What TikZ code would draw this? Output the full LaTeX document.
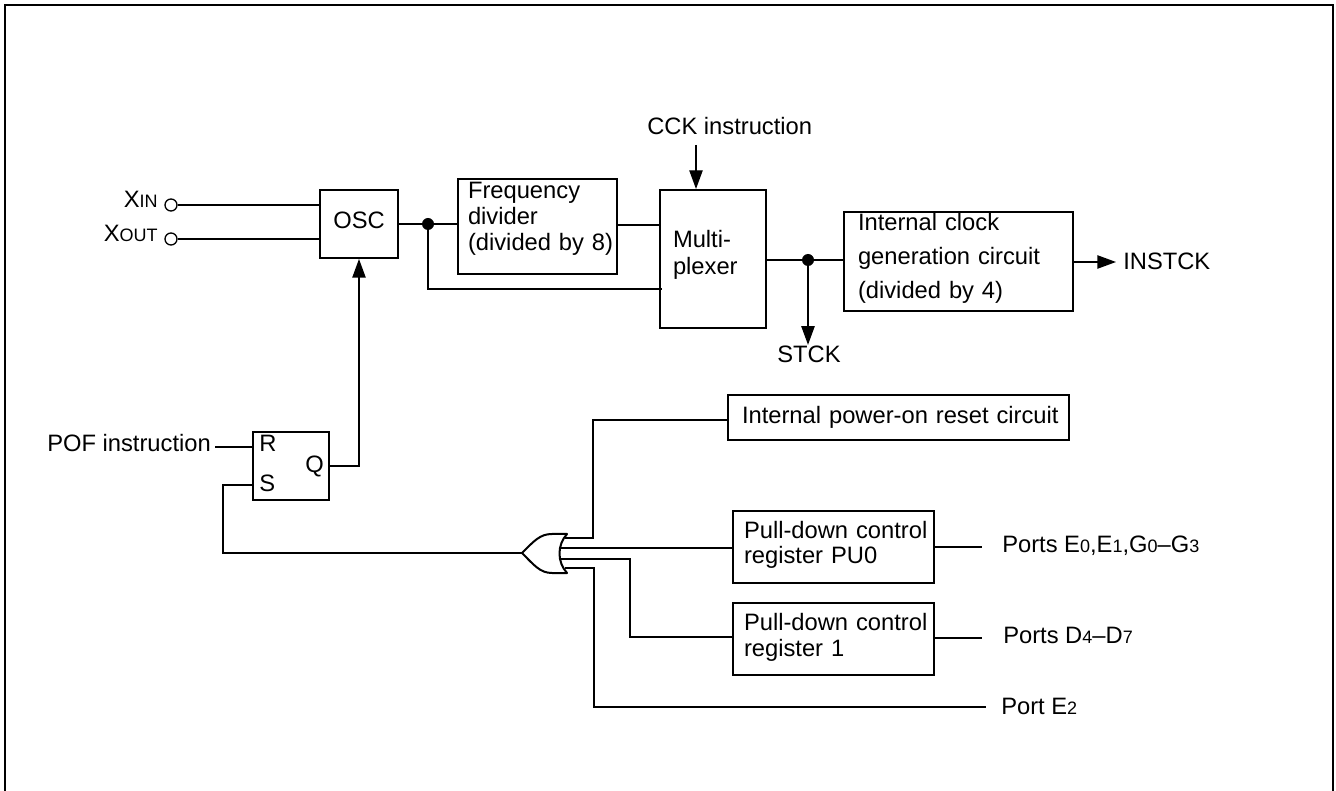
\documentclass[tikz,border=0pt]{standalone}
\usepackage{fontspec}
\setmainfont{Liberation Sans}
\usetikzlibrary{arrows.meta}
\newcommand{\lowtxt}[1]{{\fontsize{13.5}{16}\selectfont #1}}
\tikzset{
    Box/.style n args={4}{rectangle, draw=black, line width=1.5pt, anchor=north west, align=left,
        inner ysep=0pt, inner xsep=#3*0.75pt, text width=(#1-2*#3)*0.75pt,
        text height=#4*0.75pt, text depth=(#2-#4)*0.75pt},
    Label/.style={anchor=base west, inner sep=0pt},
    Wire/.style={line width=1pt},
    Head/.style={Wire, -{Triangle[length=14pt,width=10pt]}},
    Dot/.style={circle, fill=black, inner sep=0pt, minimum size=9pt},
    Pin/.style={circle, draw=black, fill=white, line width=1pt, inner sep=0pt, minimum size=9pt},
    every node/.style={font=\fontsize{17.8}{20}\selectfont}
}

\begin{document}
\begin{tikzpicture}[x=0.75pt, y=-0.75pt]
    \useasboundingbox (0,0) rectangle (1336,791);
    \draw[line width=2.2pt] (5,791) -- (5,5) -- (1333,5) -- (1333,791);

    % clock part
    \path
    (319,189) node[Box={78}{68}{0}{39}, align=center] (osc) {OSC}
    (457,178) node[Box={159}{95}{10}{20}, font=\fontsize{17.8}{19.5}\selectfont] (freq) {Frequency\\divider\\\mbox{(divided by 8)}}
    (659,189) node[Box={106}{138}{13}{58}, font=\fontsize{17.8}{20.25}\selectfont] (mux) {Multi-\\plexer}
    (843,211) node[Box={229}{99}{14}{19}, font=\fontsize{17.8}{25.5}\selectfont] (clkgen) {Internal clock\\generation circuit\\(divided by 4)}
    (252,431) node[Box={76}{68}{0}{20}] (latch) {};

    \path
    (171,205) node[Pin] (xin) {}
    (171,239) node[Pin] (xout) {}
    (158,208) node[Label, anchor=base east] (xinlabel) {X\lowtxt{IN}}
    (158,242) node[Label, anchor=base east] (xoutlabel) {X\lowtxt{OUT}}
    (428,224) node[Dot] (oscdot) {}
    (808,260) node[Dot] (muxdot) {}
    (647,135) node[Label] (cck) {CCK instruction}
    (809,363) node[Label, anchor=base] (stck) {STCK}
    (1123,270) node[Label] (instck) {INSTCK}
    (47,452) node[Label] (pof) {POF instruction}
    (259,452) node[Label] (rpin) {R}
    (259,492) node[Label] (spin) {S}
    (324,473) node[Label, anchor=base east] (qpin) {Q};

    % reset part
    \path
    (727,394) node[Box={341}{45}{14}{29}] (power) {\mbox{Internal power-on reset circuit}}
    (732,510) node[Box={201}{72}{11}{27}, font=\fontsize{17.8}{19.5}\selectfont] (pu0) {\mbox{Pull-down control}\\register PU0}
    (732,602) node[Box={201}{72}{11}{27}, font=\fontsize{17.8}{19.5}\selectfont] (pu1) {\mbox{Pull-down control}\\register 1}
    (1002,552) node[Label] (portse) {Ports E\lowtxt{0},E\lowtxt{1},G\lowtxt{0}--G\lowtxt{3}}
    (1003,643) node[Label] (portsd) {Ports D\lowtxt{4}--D\lowtxt{7}}
    (1001,714) node[Label] (porte2) {Port E\lowtxt{2}};

    \coordinate (ortip) at (522,553);
    \coordinate (ortop) at (567,534);
    \coordinate (orbot) at (567,573);
    \coordinate (cckend) at (696,145);
    \coordinate (pu0end) at (982,547);
    \coordinate (pu1end) at (982,638);
    \coordinate (e2end) at (986,707);

    % or gate
    \draw[line width=1.5pt, line join=round] (ortip) .. controls (534,541) and (540,534) .. (552,534) -- (ortop)
        .. controls (557,545) and (557,562) .. (orbot) -- (552,573)
        .. controls (540,573) and (534,565) .. (ortip);

    \draw[Wire] (xin) -- (xin -| osc.west);
    \draw[Wire] (xout) -- (xout -| osc.west);
    \draw[Wire] (osc.east |- oscdot) -- (oscdot) -- (oscdot -| freq.west);
    \draw[Wire] (oscdot) |- (662,289);
    \draw[Wire] (freq.east |- 0,225) -- (mux.west |- 0,225);
    \draw[Wire] (mux.east |- muxdot) -- (muxdot) -- (muxdot -| clkgen.west);
    \draw[Head] (cckend) -- (cckend |- mux.north);
    \draw[Head, shorten >=1pt] (muxdot) -- (muxdot |- stck.north);
    \draw[Head] (clkgen.east |- 0,262) -- (1116,262);
    \draw[Wire] (215,447) -- (latch.west |- 0,447);
    \draw[Wire] (latch.west |- 0,485) -| (223,554);
    \draw[Wire] (224,553) -- (ortip);
    \draw[Head] (latch.east |- 0,466) -| (osc.south);

    \draw[Wire] (565,538) -| (593,420) -- (593,420 -| power.west);
    \draw[Wire] (560,548) -- (pu0.west |- 0,548);
    \draw[Wire] (561,559) -| (630,637) -- (pu1.west |- 0,637);
    \draw[Wire] (565,568) -| (594,707) -- (e2end);
    \draw[Wire] (pu0.east |- pu0end) -- (pu0end);
    \draw[Wire] (pu1.east |- pu1end) -- (pu1end);
\end{tikzpicture}
\end{document}
